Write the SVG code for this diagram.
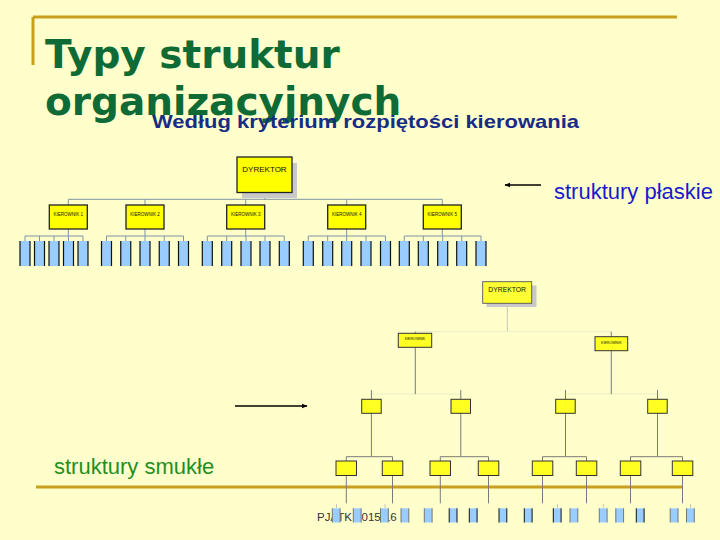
<svg xmlns="http://www.w3.org/2000/svg" width="720" height="540" viewBox="0 0 720 540">
<style>
.gold{stroke:#c9a01e;stroke-width:3;fill:none}
.title{font-family:"DejaVu Sans",sans-serif;font-weight:bold;font-size:39px;fill:#0f6b35}
.sub{font-family:"Liberation Sans",Arial,sans-serif;font-weight:bold;font-size:19px;fill:#172c84}
.lbl{font-family:"Liberation Sans",Arial,sans-serif;font-size:22px}
.ybox{fill:#ffff00;stroke:#222;stroke-width:1.3}
.ysm{fill:#ffff22;stroke:#333;stroke-width:1}
.bbox{fill:#99ccff;stroke:#111;stroke-width:1.2;stroke-dasharray:0 10 25 10 25}
.bsm{fill:#99ccff;stroke:#777;stroke-width:1;stroke-dasharray:0 7.8 14.2 7.8 14.2}
.bdk{fill:#99ccff;stroke:#111;stroke-width:1;stroke-dasharray:0 7.8 14.2 7.8 14.2}
.tiny{font-family:"Liberation Sans",Arial,sans-serif;fill:#111;text-anchor:middle}
.c1{stroke:#7f93a8;stroke-width:1;fill:none}
.c2{stroke:#7a7a7a;stroke-width:1;fill:none}
.c3{stroke:#c8c8b8;stroke-width:1;fill:none}
.c4{stroke:#ecebc4;stroke-width:1;fill:none}
.arr{stroke:#000;stroke-width:1.3;fill:none}
</style>
<defs>
<marker id="ah" viewBox="0 0 10 10" refX="9" refY="5" markerWidth="6" markerHeight="6" orient="auto" markerUnits="userSpaceOnUse">
<path d="M0,1 L10,5 L0,9 z" fill="#000"/>
</marker>
</defs>
<rect width="720" height="540" fill="#ffffcc"/>

<g id="frame">
<path class="gold" d="M33,17 H677 M33,17 V65"/>
<path class="gold" d="M36,487 H683"/>
</g>

<g id="titles">
<text class="title" x="45" y="68">Typy struktur</text>
<text class="title" x="45" y="115">organizacyjnych</text>
<text class="sub" x="152" y="128" textLength="427" lengthAdjust="spacingAndGlyphs">Według kryterium rozpiętości kierowania</text>
<text class="lbl" x="554" y="199" fill="#1a1acc">struktury płaskie</text>
<text class="lbl" x="54" y="474" fill="#1f8f1f">struktury smukłe</text>
<text x="317" y="521" font-family="Liberation Sans,Arial,sans-serif" font-size="11.5" fill="#333">PJATK 2015/16</text>
</g>

<g id="connectors">
<path class="arr" d="M541,185 H505" marker-end="url(#ah)"/>
<path class="arr" d="M235,406 H307" marker-end="url(#ah)"/>
<path class="c1" d="M265,193 V199.3 M68.3,199.3 H442.3 M68.3,199.3 V205 M145,199.3 V205 M245.7,199.3 V205 M346.7,199.3 V205 M442.3,199.3 V205"/>
<path class="c1" d="M68.3,229 V236 M145,229 V236 M245.7,229 V236 M346.7,229 V236 M442.3,229 V236"/>
<path class="c1" d="M25,236 H83 M25,236 V241 M39.5,236 V241 M54,236 V241 M68.5,236 V241 M83,236 V241"/>
<path class="c1" d="M106.5,236 H183.5 M106.5,236 V241 M125.75,236 V241 M145,236 V241 M164.25,236 V241 M183.5,236 V241"/>
<path class="c1" d="M207.3,236 H284.3 M207.3,236 V241 M226.7,236 V241 M246,236 V241 M265,236 V241 M284.3,236 V241"/>
<path class="c1" d="M308.3,236 H385.5 M308.3,236 V241 M327.7,236 V241 M346.7,236 V241 M366,236 V241 M385.5,236 V241"/>
<path class="c1" d="M404.3,236 H481 M404.3,236 V241 M423.3,236 V241 M442.7,236 V241 M461.7,236 V241 M481,236 V241"/>
<path class="c3" d="M507.3,307 V331.7"/>
<path class="c4" d="M415.3,331.7 H611.3 M371.4,394 H460.8 M565.5,394 H657.5"/>
<path class="c2" d="M415.3,331.7 V333.3 M415.3,347.3 V394 M611.3,331.7 V336.7 M611.3,350.7 V394"/>
<path class="c2" d="M371.4,390 V399.3 M460.8,390 V399.3 M565.5,390 V399.3 M657.5,390 V399.3"/>
<path class="c2" d="M371.4,413.3 V456.7 M460.8,413.3 V456.7 M565.5,413.3 V456.7 M657.5,413.3 V456.7"/>
<path class="c2" d="M346.3,456.7 H392.5 M440.3,456.7 H488.5 M542.5,456.7 H586.5 M630.5,456.7 H682.5"/>
<path class="c2" d="M346.3,456.7 V461 M392.5,456.7 V461 M440.3,456.7 V461 M488.5,456.7 V461 M542.5,456.7 V461 M586.5,456.7 V461 M630.5,456.7 V461 M682.5,456.7 V461"/>
<path class="c2" d="M346.3,475.5 V503.3 M392.5,475.5 V503.3 M440.3,475.5 V503.3 M488.5,475.5 V503.3 M542.5,475.5 V503.3 M586.5,475.5 V503.3 M630.5,475.5 V503.3 M682.5,475.5 V503.3"/>
<path class="c3" d="M336.5,504 V508.3 M385,504 V508.3 M557.5,504 V508.3 M603.3,504 V508.3 M690.5,504 V508.3"/>
</g>

<g id="flat-dyrektor">
<rect x="242" y="163" width="55" height="35" fill="#c9c9c9"/>
<rect class="ybox" x="237" y="157" width="55" height="35.5"/>
<text class="tiny" x="264.5" y="172" font-size="8">DYREKTOR</text>
</g>
<g id="flat-k1"><rect class="ybox" x="49.3" y="205" width="38" height="24"/><text class="tiny" x="68.3" y="216" font-size="4.5">KIEROWNIK 1</text></g>
<g id="flat-k2"><rect class="ybox" x="126" y="205" width="38" height="24"/><text class="tiny" x="145" y="216" font-size="4.5">KIEROWNIK 2</text></g>
<g id="flat-k3"><rect class="ybox" x="226.7" y="205" width="38" height="24"/><text class="tiny" x="245.7" y="216" font-size="4.5">KIEROWNIK 3</text></g>
<g id="flat-k4"><rect class="ybox" x="327.7" y="205" width="38" height="24"/><text class="tiny" x="346.7" y="216" font-size="4.5">KIEROWNIK 4</text></g>
<g id="flat-k5"><rect class="ybox" x="423.3" y="205" width="38" height="24"/><text class="tiny" x="442.3" y="216" font-size="4.5">KIEROWNIK 5</text></g>

<g id="flat-workers">
<rect class="bbox" x="20" y="241" width="10" height="25"/>
<rect class="bbox" x="34.5" y="241" width="10" height="25"/>
<rect class="bbox" x="49" y="241" width="10" height="25"/>
<rect class="bbox" x="63.5" y="241" width="10" height="25"/>
<rect class="bbox" x="78" y="241" width="10" height="25"/>
<rect class="bbox" x="101.5" y="241" width="10" height="25"/>
<rect class="bbox" x="120.75" y="241" width="10" height="25"/>
<rect class="bbox" x="140" y="241" width="10" height="25"/>
<rect class="bbox" x="159.25" y="241" width="10" height="25"/>
<rect class="bbox" x="178.5" y="241" width="10" height="25"/>
<rect class="bbox" x="202.3" y="241" width="10" height="25"/>
<rect class="bbox" x="221.7" y="241" width="10" height="25"/>
<rect class="bbox" x="241" y="241" width="10" height="25"/>
<rect class="bbox" x="260" y="241" width="10" height="25"/>
<rect class="bbox" x="279.3" y="241" width="10" height="25"/>
<rect class="bbox" x="303.3" y="241" width="10" height="25"/>
<rect class="bbox" x="322.7" y="241" width="10" height="25"/>
<rect class="bbox" x="341.7" y="241" width="10" height="25"/>
<rect class="bbox" x="361" y="241" width="10" height="25"/>
<rect class="bbox" x="380.5" y="241" width="10" height="25"/>
<rect class="bbox" x="399.3" y="241" width="10" height="25"/>
<rect class="bbox" x="418.3" y="241" width="10" height="25"/>
<rect class="bbox" x="437.7" y="241" width="10" height="25"/>
<rect class="bbox" x="456.7" y="241" width="10" height="25"/>
<rect class="bbox" x="476" y="241" width="10" height="25"/>
</g>

<g id="tall-dyrektor">
<rect x="486.5" y="285.5" width="50" height="21.5" fill="#c9c9c9"/>
<rect x="482.7" y="281.7" width="49" height="21.6" fill="#ffff33" stroke="#555" stroke-width="0.9"/>
<text class="tiny" x="507.2" y="291.5" font-size="6.8">DYREKTOR</text>
</g>
<g id="tall-ka"><rect class="ysm" x="398.3" y="333.3" width="33.4" height="14"/><text class="tiny" x="415" y="340" font-size="3.6">KIEROWNIK</text></g>
<g id="tall-kb"><rect class="ysm" x="595" y="336.7" width="32.7" height="14"/><text class="tiny" x="611.3" y="343.5" font-size="3.6">KIEROWNIK</text></g>

<g id="tall-level3">
<rect class="ysm" x="361.7" y="399.3" width="19.5" height="14"/>
<rect class="ysm" x="451" y="399.3" width="19.5" height="14"/>
<rect class="ysm" x="555.7" y="399.3" width="19.5" height="14"/>
<rect class="ysm" x="647.7" y="399.3" width="19.5" height="14"/>
</g>
<g id="tall-level4">
<rect class="ysm" x="336" y="461" width="20.5" height="14.5"/>
<rect class="ysm" x="382.3" y="461" width="20.5" height="14.5"/>
<rect class="ysm" x="430" y="461" width="20.5" height="14.5"/>
<rect class="ysm" x="478.3" y="461" width="20.5" height="14.5"/>
<rect class="ysm" x="532.3" y="461" width="20.5" height="14.5"/>
<rect class="ysm" x="576.3" y="461" width="20.5" height="14.5"/>
<rect class="ysm" x="620.3" y="461" width="20.5" height="14.5"/>
<rect class="ysm" x="672.3" y="461" width="20.5" height="14.5"/>
</g>
<g id="tall-workers">
<rect class="bsm" x="332.3" y="508.3" width="7.8" height="14.2"/>
<rect class="bsm" x="353.3" y="508.3" width="7.8" height="14.2"/>
<rect class="bsm" x="380.5" y="508.3" width="7.8" height="14.2"/>
<rect class="bsm" x="401" y="508.3" width="7.8" height="14.2"/>
<rect class="bsm" x="424.3" y="508.3" width="7.8" height="14.2"/>
<rect class="bdk" x="449.2" y="508.3" width="7.8" height="14.2"/>
<rect class="bdk" x="469.3" y="508.3" width="7.8" height="14.2"/>
<rect class="bdk" x="499" y="508.3" width="7.8" height="14.2"/>
<rect class="bdk" x="524.3" y="508.3" width="7.8" height="14.2"/>
<rect class="bdk" x="553.3" y="508.3" width="7.8" height="14.2"/>
<rect class="bsm" x="570" y="508.3" width="7.8" height="14.2"/>
<rect class="bsm" x="599.3" y="508.3" width="7.8" height="14.2"/>
<rect class="bsm" x="615.8" y="508.3" width="7.8" height="14.2"/>
<rect class="bdk" x="636.3" y="508.3" width="7.8" height="14.2"/>
<rect class="bsm" x="670.2" y="508.3" width="7.8" height="14.2"/>
<rect class="bsm" x="686.5" y="508.3" width="7.8" height="14.2"/>
</g>
</svg>
